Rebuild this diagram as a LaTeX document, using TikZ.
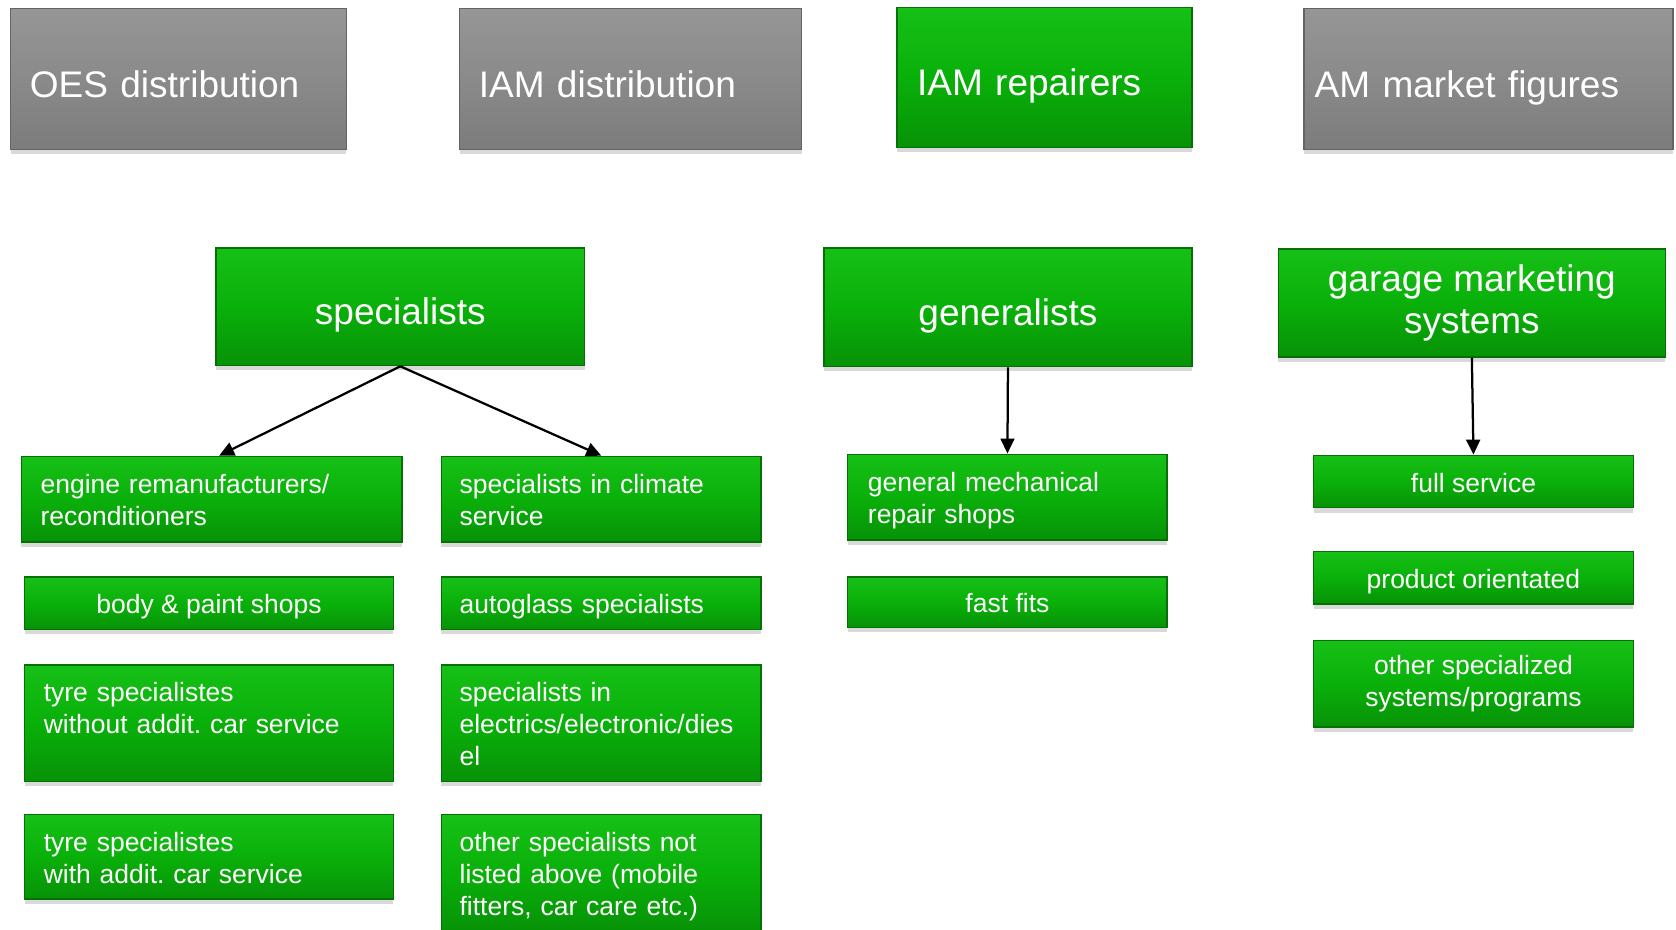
\documentclass[tikz,border=0pt]{standalone}
\usepackage{fontspec}
\setmainfont{Liberation Sans}
\usepackage{tikz}
\usetikzlibrary{shadows, arrows.meta}
\frenchspacing

\definecolor{gtop}{RGB}{22,192,22}
\definecolor{gmid}{RGB}{10,176,10}
\definecolor{gbot}{RGB}{7,146,7}
\definecolor{gedge}{RGB}{5,112,5}
\definecolor{ytop}{RGB}{150,150,150}
\definecolor{ymid}{RGB}{138,138,138}
\definecolor{ybot}{RGB}{124,124,124}
\definecolor{yedge}{RGB}{100,100,100}

\tikzset{
    panel/.style={inner sep=0pt, text=white, align=center,
        drop shadow={shadow xshift=0pt, shadow yshift=-0.045cm, opacity=0.3}},
    greenbox/.style={panel, draw=gedge, line width=0.4pt, top color=gtop, bottom color=gbot, middle color=gmid},
    graybox/.style={panel, draw=yedge, line width=0.4pt, top color=ytop, bottom color=ybot, middle color=ymid},
    boxsize/.style 2 args={minimum width=#1cm, minimum height=#2cm},
    lefttext/.style 2 args={text width=#1cm, inner xsep=#2cm, align=left},
    big/.style={font=\fontsize{9.85}{11.4}\selectfont, text height=0.34cm, text depth=0pt},
    bigmulti/.style={font=\fontsize{9.85}{11.4}\selectfont,
        execute at begin node=\rule{0pt}{0.34cm}, execute at end node=\rule[-0.06cm]{0pt}{0.06cm}},
    small/.style={font=\fontsize{7.05}{8.5}\selectfont,
        execute at begin node=\rule{0pt}{0.25cm}, execute at end node=\rule[-0.05cm]{0pt}{0.05cm}},
    arr/.style={line width=0.6pt, -{Triangle[length=0.14cm, width=0.13cm]}}
}

\begin{document}
\begin{tikzpicture}
    \useasboundingbox (0,0) rectangle (15.68,-8.70);

    \node[graybox, big, lefttext={2.78}{0.18}, minimum height=1.32cm] (oes) at (1.67,-0.74) {OES distribution};
    \node[graybox, big, lefttext={2.84}{0.18}, minimum height=1.32cm] (iamdist) at (5.90,-0.74) {IAM distribution};
    \node[greenbox, big, lefttext={2.38}{0.19}, minimum height=1.31cm] (iamrep) at (9.77,-0.725) {IAM repairers};
    \node[graybox, big, lefttext={3.25}{0.10}, minimum height=1.32cm] (amfig) at (13.925,-0.74) {AM market figures};

    \node[greenbox, big, boxsize={3.45}{1.10}] (spec) at (3.745,-2.87) {specialists};
    \node[greenbox, big, boxsize={3.44}{1.11}] (gen) at (9.43,-2.875) {generalists};
    \node[greenbox, bigmulti, boxsize={3.62}{1.01}] (gms) at (13.77,-2.835) {garage marketing\\systems};

    \node[greenbox, small, lefttext={3.20}{0.18}, minimum height=0.80cm] (engine) at (1.98,-4.67) {engine remanufacturers/\\reconditioners};
    \node[greenbox, small, boxsize={3.45}{0.49}] (body) at (1.955,-5.645) {body \& paint shops};
    \node[greenbox, small, lefttext={3.09}{0.18}, minimum height=1.09cm] (tyreno) at (1.955,-6.765) {tyre specialistes\\without addit. car service\\\mbox{}};
    \node[greenbox, small, lefttext={3.09}{0.18}, minimum height=0.79cm] (tyrewith) at (1.955,-8.015) {tyre specialistes\\with addit. car service};

    \node[greenbox, small, lefttext={2.65}{0.17}, minimum height=0.80cm] (climate) at (5.625,-4.67) {specialists in climate\\service};
    \node[greenbox, small, lefttext={2.65}{0.17}, minimum height=0.49cm] (autoglass) at (5.625,-5.645) {autoglass specialists};
    \node[greenbox, small, lefttext={2.65}{0.17}, minimum height=1.09cm] (electrics) at (5.625,-6.765) {specialists in\\electrics/electronic/dies\\el};
    \node[greenbox, small, lefttext={2.65}{0.17}, minimum height=1.09cm] (otherspec) at (5.625,-8.165) {other specialists not\\listed above (mobile\\fitters, car care etc.)};

    \node[greenbox, small, lefttext={2.61}{0.19}, minimum height=0.80cm] (genmech) at (9.425,-4.65) {general mechanical\\repair shops};
    \node[greenbox, small, boxsize={2.99}{0.47}] (fastfits) at (9.425,-5.635) {fast fits};

    \node[greenbox, small, boxsize={2.99}{0.49}] (full) at (13.785,-4.505) {full service};
    \node[greenbox, small, boxsize={2.99}{0.49}] (product) at (13.785,-5.405) {product orientated};
    \node[greenbox, small, boxsize={2.99}{0.81}] (othersys) at (13.785,-6.395) {other specialized\\systems/programs};

    \draw[arr] (spec.south) -- ([xshift=0.07cm]engine.north);
    \draw[arr] (spec.south) -- (climate.north);
    \draw[arr] (gen.south) -- (genmech.north);
    \draw[arr] (gms.south) -- (full.north);
\end{tikzpicture}
\end{document}
